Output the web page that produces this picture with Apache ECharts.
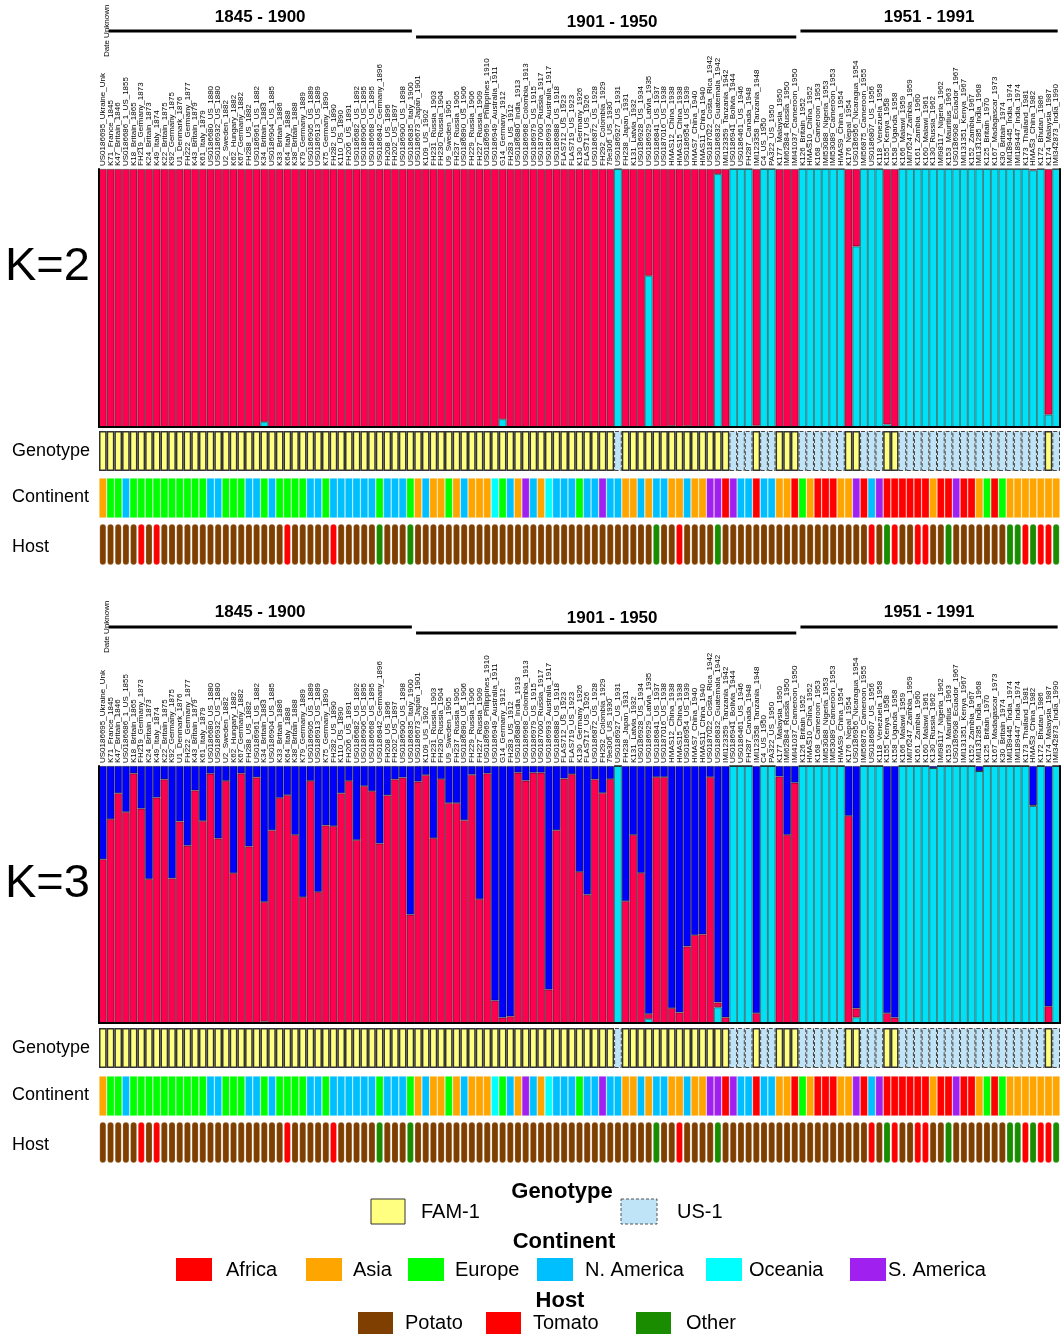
<!DOCTYPE html>
<html><head><meta charset="utf-8">
<script src="https://cdn.jsdelivr.net/npm/echarts/dist/echarts.min.js"></script>
<style>html,body{margin:0;padding:0;background:#fff}#c{width:1061px;height:1337px}</style>
</head><body><div id="c"></div><script>
// ---------------- DATA ----------------
const sampleLabels = [
'US0186695_Ukraine_Unk','K71_France_1845','K47_Britain_1846','US0186686_1_US_1855','K18_Britain_1865','FH219_Germany_1873','K24_Britain_1873','K49_Italy_1874','K22_Britain_1875','K92_Germany_1875',
'U1_Denmark_1876','FH222_Germany_1877','K43_Britain_1879','K61_Italy_1879','US0186680_US_1880','US0186932_US_1880','U2_Sweden_1882','K62_Hungary_1882','K67_Germany_1882','FH288_US_1882',
'US0186961_US_1882','K34_Britain_1883','US0186904_US_1885','K33_Britain_1886','K64_Italy_1888','K38_Britain_1888','K79_Germany_1889','US0186905_US_1889','US0186913_US_1889','K75_Germany_1890',
'FH282_US_1890','K110_US_1890','FH206_US_1891','US0186682_US_1892','US0186906_US_1895','US0186668_US_1895','US0186842_Germany_1896','FH208_US_1896','FH202_US_1897','US0186900_US_1898',
'US0186835_Italy_1900','US0186673_Japan_1901','K109_US_1902','FH231_Russia_1903','FH230_Russia_1904','U9_Sweden_1905','FH237_Russia_1905','US0186890_US_1906','FH229_Russia_1906','FH227_Russia_1909',
'US0186969_Philippines_1910','US0186949_Australia_1911','G14_Germany_1912','FH283_US_1912','US0186880_India_1913','US0186968_Colombia_1913','US0186979_US_1915','US0187000_Russia_1917','US0186993_Australia_1917','US0186888_US_1918',
'FLAS712_US_1923','FLAS719_US_1923','K130_Germany_1926','FLAS717_US_1926','US0186872_US_1928','FH292_Colombia_1929','79e306_US_1930','US0186927_US_1931','FH238_Japan_1931','K131_Latvia_1932',
'US0186928_US_1934','US0186929_Latvia_1935','US0186841_US_1937','US0187016_US_1938','HMAS12_China_1938','HMAS15_China_1938','US0186954_US_1939','HMAS7_China_1940','HMAS11_China_1940','US0187022_Costa_Rica_1942',
'US0186832_Guatemala_1942','IMI123359_Tanzania_1942','US0186941_Bolivia_1944','US0186461_US_1946','FH287_Canada_1948','IMI123358_Tanzania_1948','C4_US_1950','PA322_US_1950','K177_Malaysia_1950','IMI62884_Russia_1950',
'IMI41037_Cameroon_1950','K126_Britain_1952','HMAS10_China_1952','K168_Cameroon_1953','IMI53088_Nigeria_1953','IMI53089_Cameroon_1953','HMAS9_China_1954','K176_Nepal_1954','US0186956_Nicaragua_1954','IMI56875_Cameroon_1955',
'US0186807_US_1956','K118_Venezuela_1958','K155_Kenya_1958','K158_Uganda_1958','K166_Malawi_1959','IMI76247_Zambia_1959','K161_Zambia_1960','K160_Malawi_1961','K130_Russia_1962','IMI98117_Nigeria_1962',
'K153_Mauritius_1963','US0186908_Ecuador_1967','IMI131351_Kenya_1967','K152_Zambia_1967','IMI131285_India_1968','K125_Britain_1970','K167_Madagascar_1973','K30_Britain_1974','IMI189445_India_1974','IMI189447_India_1974',
'K173_Thailand_1981','HMAS3_China_1982','K172_Bhutan_1986','K174_Malaysia_1987','IMI342873_India_1990'
];

// K=2 membership (cyan cluster at bottom, red cluster on top)
const k2Cyan = [
0,0,0,0,0,0,0,0,0,0, 0,0,0,0,0,0,0,0,0,0, 0,.02,0,0,0,0,0,0,0,0, 0,0,0,0,0,0,0,0,0,0,
0,0,0,0,0,0,0,0,0,0, 0,0,.03,0,0,0,0,0,0,0, 0,0,0,0,0,0,0,1,0,0, 0,.586,0,0,.004,0,.004,0,0,0,
.98,0,1,1,1,.005,1,1,0,0, 0,1,1,1,1,1,1,0,.70,1, 1,1,.01,0,1,1,1,1,1,1, 1,1,1,1,1,1,1,1,1,1,
1,.995,1,.048,1];
const k2Red = [
1,1,1,1,1,1,1,1,1,1, 1,1,1,1,1,1,1,1,1,1, 1,.98,1,1,1,1,1,1,1,1, 1,1,1,1,1,1,1,1,1,1,
1,1,1,1,1,1,1,1,1,1, 1,1,.97,1,1,1,1,1,1,1, 1,1,1,1,1,1,1,0,1,1, 1,.414,1,1,.996,1,.996,1,1,1,
.02,1,0,0,0,.995,0,0,1,1, 1,0,0,0,0,0,0,1,.30,0, 0,0,.99,1,0,0,0,0,0,0, 0,0,0,0,0,0,0,0,0,0,
0,.005,0,.952,0];

// K=3 membership (cyan bottom, red middle, blue top)
const k3Cyan = [
0,0,0,0,0,0,0,0,0,0, 0,0,0,0,0,0,0,0,0,0, 0,.005,0,0,0,0,0,0,0,0, 0,0,0,0,0,0,0,0,0,0,
0,0,0,0,0,0,0,0,0,0, 0,0,0,0,0,0,0,0,0,0, 0,0,0,0,0,0,0,1,0,0, 0,.016,0,0,0,0,0,0,0,0,
.061,0,1,1,1,0,1,1,0,0, 0,1,1,1,1,1,1,0,.022,1, 1,1,0,0,1,1,1,1,.992,1, 1,1,1,1,.98,1,1,1,1,1,
1,.844,1,0,1];
const k3Red = [
.637,.793,.894,.821,.971,.834,.560,.877,.948,.563, .784,.690,.905,.786,.970,.718,.942,.583,.971,.687,
.956,.466,.750,.876,.887,.732,.490,.942,.510,.769, .766,.894,.942,.712,.922,.902,.698,.886,.948,.955,
.422,.939,.965,.719,.949,.856,.856,.789,.966,.482, .971,.087,.021,.026,.974,.943,.974,.974,.130,.750,
.951,.968,.588,.499,.948,.895,.949,0,.474,.732, .584,.019,.957,.957,.058,.041,.298,.342,.345,.957,
.019,.022,0,0,0,.038,0,0,.959,.732, .935,0,0,0,0,0,0,.806,.035,0, 0,0,.038,.021,0,0,0,0,0,0,
0,0,0,0,0,0,0,0,0,0, 0,.003,0,.065,0];
const k3Blue = [
.363,.207,.106,.179,.029,.166,.440,.123,.052,.437, .216,.310,.095,.214,.030,.282,.058,.417,.029,.313,
.044,.529,.250,.124,.113,.268,.510,.058,.490,.231, .234,.106,.058,.288,.078,.098,.302,.114,.052,.045,
.578,.061,.035,.281,.051,.144,.144,.211,.034,.518, .029,.913,.979,.974,.026,.057,.026,.026,.870,.250,
.049,.032,.412,.501,.052,.105,.051,0,.526,.268, .416,.965,.043,.043,.942,.959,.702,.658,.655,.043,
.920,.978,0,0,0,.962,0,0,.041,.268, .065,0,0,0,0,0,0,.194,.943,0, 0,0,.962,.979,0,0,0,0,.008,0,
0,0,0,0,.02,0,0,0,0,0, 0,.153,0,.935,0];

// Genotype: F = FAM-1, U = US-1
const genotype = [
'F','F','F','F','F','F','F','F','F','F', 'F','F','F','F','F','F','F','F','F','F', 'F','F','F','F','F','F','F','F','F','F',
'F','F','F','F','F','F','F','F','F','F', 'F','F','F','F','F','F','F','F','F','F', 'F','F','F','F','F','F','F','F','F','F',
'F','F','F','F','F','F','F','U','F','F', 'F','F','F','F','F','F','F','F','F','F', 'F','F','U','U','U','F','U','U','F','F',
'F','U','U','U','U','U','U','F','F','U', 'U','U','F','F','U','U','U','U','U','U', 'U','U','U','U','U','U','U','U','U','U',
'U','U','U','F','U'];
// Continent: A Africa, S Asia, E Europe, N N. America, O Oceania, P S. America
const continent = [
'S','E','E','N','E','E','E','E','E','E', 'E','E','E','E','N','N','E','E','E','N', 'N','E','N','E','E','E','E','N','N','E',
'N','N','N','N','N','N','E','N','N','N', 'E','S','N','S','S','E','S','N','S','S', 'S','O','E','N','S','P','N','S','O','N',
'N','N','E','N','N','P','N','N','S','S', 'N','S','N','N','S','S','N','S','S','P', 'P','A','P','N','N','A','N','N','S','S',
'A','E','S','A','A','A','S','S','P','A', 'N','P','A','A','A','A','A','A','S','A', 'A','P','A','A','S','E','A','E','S','S',
'S','S','S','S','S'];
// Host: P Potato, T Tomato, O Other
const host = [
'P','P','P','P','P','T','P','T','P','P', 'P','P','P','P','P','P','P','P','P','P', 'P','P','P','P','T','P','P','P','P','P',
'T','P','P','P','P','P','O','P','P','P', 'O','P','P','P','P','P','P','P','P','P', 'P','P','P','P','P','P','P','P','P','P',
'P','P','P','P','P','P','P','P','P','P', 'P','P','O','P','P','T','P','P','P','P', 'O','P','P','P','P','P','P','P','P','P',
'P','P','P','P','P','P','P','P','P','P', 'T','P','O','T','P','P','T','T','P','P', 'O','P','P','P','P','P','P','P','O','O',
'T','O','T','T','O'];

const periodLabels = ['1845 - 1900', '1901 - 1950', '1951 - 1991'];
const periodRanges = [[1, 40], [41, 90], [91, 124]];
const continentNames = ['Africa', 'Asia', 'Europe', 'N. America', 'Oceania', 'S. America'];
const continentCodes = ['A', 'S', 'E', 'N', 'O', 'P'];
const hostNames = ['Potato', 'Tomato', 'Other'];
const hostCodes = ['P', 'T', 'O'];
const genotypeNames = ['FAM-1', 'US-1'];

// ---------------- STYLE ----------------
const FONT = '"Liberation Sans", Arial, Helvetica, sans-serif';
const CLR = { red: '#FF0050', cyan: '#00E1F5', blue: '#0000FF' };
const genoStyle = {
  F: { color: '#FFFF80', borderColor: '#333', borderWidth: 1.5, borderType: 'solid' },
  U: { color: '#BFE4F8', borderColor: '#444', borderWidth: 1, borderType: 'dashed' }
};
const contColor = { A: '#FF0000', S: '#FFA500', E: '#00FF00', N: '#00BFFF', O: '#00FFFF', P: '#A020F0' };
const hostColor = { P: '#7F3F00', T: '#FF0000', O: '#1A8C00' };

const blocks = [
  { top: 169, h: 258, genoTop: 431, contTop: 478, hostTop: 524, kLabel: 'K=2', kY: 267,
    series: [['cyan', k2Cyan], ['red', k2Red]], headY: [17, 22, 17], lineY: [31, 37, 31], duY: 57 },
  { top: 766, h: 257, genoTop: 1028, contTop: 1076, hostTop: 1122, kLabel: 'K=3', kY: 884,
    series: [['cyan', k3Cyan], ['red', k3Red], ['blue', k3Blue]], headY: [612, 618, 612], lineY: [627, 633, 627], duY: 653 }
];

const grid = [], xAxis = [], yAxis = [], series = [];
const LEFT = 99, WIDTH = 961;
const frameLine = { show: true, lineStyle: { color: '#000', width: 2 } };

blocks.forEach((b, bi) => {
  const g = grid.length;
  grid.push({ left: LEFT, top: b.top, width: WIDTH, height: b.h });
  b.xTop = xAxis.length;
  xAxis.push({ gridIndex: g, type: 'category', data: sampleLabels, position: 'top', z: 10,
    axisTick: { show: false }, axisLine: frameLine,
    axisLabel: { interval: 0, rotate: 90, fontSize: 8, fontFamily: FONT, color: '#000', margin: 3 } });
  xAxis.push({ gridIndex: g, type: 'category', data: sampleLabels, position: 'bottom', z: 10,
    axisTick: { show: false }, axisLabel: { show: false }, axisLine: frameLine });
  const yl = yAxis.length;
  yAxis.push({ gridIndex: g, type: 'value', min: 0, max: 1, position: 'left', z: 10,
    axisLine: frameLine, axisLabel: { show: false }, axisTick: { show: false }, splitLine: { show: false } });
  yAxis.push({ gridIndex: g, type: 'value', min: 0, max: 1, position: 'right', z: 10,
    axisLine: frameLine, axisLabel: { show: false }, axisTick: { show: false }, splitLine: { show: false } });
  b.series.forEach(([c, arr]) => {
    series.push({ type: 'bar', xAxisIndex: b.xTop, yAxisIndex: yl, stack: 'k' + bi, data: arr,
      barCategoryGap: '0%', silent: true,
      itemStyle: { color: CLR[c], borderColor: 'rgba(0,0,0,0.55)', borderWidth: 0.8 } });
  });
  // strips
  const strips = [
    { top: b.genoTop, h: 40, items: genotype.map(v => ({ value: 1, itemStyle: genoStyle[v] })), gap: '0%' },
    { top: b.contTop, h: 40, items: continent.map(v => ({ value: 1, itemStyle: { color: contColor[v], borderColor: 'rgba(255,255,255,0.45)', borderWidth: 0.6 } })), gap: '0%' },
    { top: b.hostTop, h: 41, items: host.map(v => ({ value: 1, itemStyle: { color: hostColor[v], borderRadius: 4, borderColor: 'rgba(255,255,255,0.3)', borderWidth: 0.6 } })), gap: '14%' }
  ];
  strips.forEach(s => {
    const gi = grid.length;
    grid.push({ left: LEFT, top: s.top, width: WIDTH, height: s.h });
    const xi = xAxis.length, yi = yAxis.length;
    xAxis.push({ gridIndex: gi, type: 'category', data: sampleLabels, show: false });
    yAxis.push({ gridIndex: gi, type: 'value', min: 0, max: 1, show: false });
    series.push({ type: 'bar', xAxisIndex: xi, yAxisIndex: yi, data: s.items, barCategoryGap: s.gap, silent: true });
  });
});

const chart = echarts.init(document.getElementById('c'), null, { renderer: 'canvas' });
chart.setOption({ animation: false, backgroundColor: '#fff', grid, xAxis, yAxis, series });

// ---------------- DECORATIONS ----------------
function txt(x, y, text, font, align, extra) {
  return Object.assign({ type: 'text', x, y, z: 20,
    style: { text, font, fill: '#000', align: align || 'left', verticalAlign: 'middle', textAlign: align || 'left', textVerticalAlign: 'middle' } }, extra || {});
}
const graphic = [];
const headOffset = [0, 6, 0];
blocks.forEach(b => {
  const px = i => chart.convertToPixel({ xAxisIndex: b.xTop }, i);
  graphic.push(txt(5, b.kY, b.kLabel, '47px ' + FONT));
  graphic.push(txt(12, b.genoTop + 20, 'Genotype', '18px ' + FONT));
  graphic.push(txt(12, b.contTop + 19, 'Continent', '18px ' + FONT));
  graphic.push(txt(12, b.hostTop + 23, 'Host', '18px ' + FONT));
  graphic.push(txt(107, b.duY, 'Date Unknown', '8px ' + FONT, 'left', { rotation: Math.PI / 2 }));
  periodRanges.forEach((r, k) => {
    const x1 = px(r[0]) - 2, x2 = px(r[1]) + 1.5;
    graphic.push({ type: 'line', z: 20, shape: { x1, y1: b.lineY[k], x2, y2: b.lineY[k] }, style: { stroke: '#000', lineWidth: 3 } });
    graphic.push(txt((x1 + x2) / 2 + headOffset[k], b.headY[k], periodLabels[k], 'bold 17px ' + FONT, 'center'));
  });
});

// Legend
graphic.push(txt(562, 1192, 'Genotype', 'bold 22px ' + FONT, 'center'));
graphic.push({ type: 'rect', shape: { x: 371, y: 1199, width: 34, height: 25 }, style: { fill: genoStyle.F.color, stroke: '#333', lineWidth: 1 } });
graphic.push(txt(421, 1212, genotypeNames[0], '20px ' + FONT));
graphic.push({ type: 'rect', shape: { x: 621, y: 1199, width: 36, height: 25 }, style: { fill: genoStyle.U.color, stroke: '#555', lineWidth: 1, lineDash: [3, 2] } });
graphic.push(txt(677, 1212, genotypeNames[1], '20px ' + FONT));

graphic.push(txt(564, 1242, 'Continent', 'bold 22px ' + FONT, 'center'));
const contSw = [176, 306, 408, 537, 706, 850], contTx = [226, 353, 455, 585, 749, 888];
continentNames.forEach((n, i) => {
  graphic.push({ type: 'rect', shape: { x: contSw[i], y: 1258, width: 36, height: 23 }, style: { fill: contColor[continentCodes[i]] } });
  graphic.push(txt(contTx[i], 1270, n, '20px ' + FONT));
});

graphic.push(txt(560, 1301, 'Host', 'bold 22px ' + FONT, 'center'));
const hostSw = [358, 486, 636], hostTx = [405, 533, 686];
hostNames.forEach((n, i) => {
  graphic.push({ type: 'rect', shape: { x: hostSw[i], y: 1312, width: 35, height: 22 }, style: { fill: hostColor[hostCodes[i]] } });
  graphic.push(txt(hostTx[i], 1323, n, '20px ' + FONT));
});

chart.setOption({ graphic });
</script></body></html>
